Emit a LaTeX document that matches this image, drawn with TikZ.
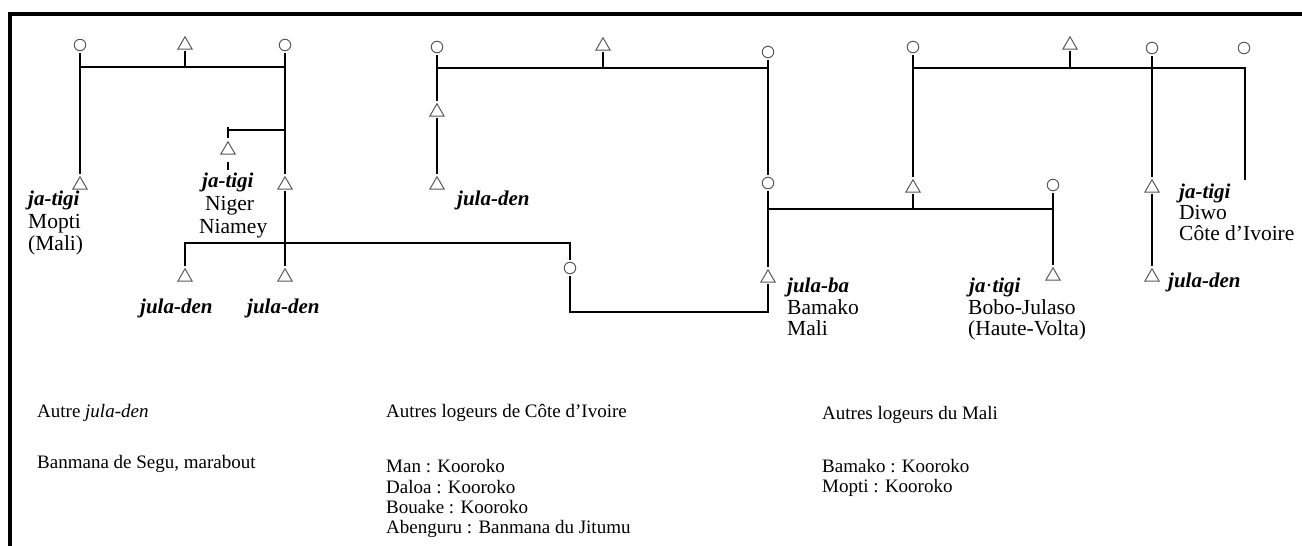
\documentclass[tikz,border=0pt]{standalone}
\usepackage{fontspec}
\setmainfont{Liberation Serif}
\usetikzlibrary{shapes.geometric}
\begin{document}
\begin{tikzpicture}[x=1pt,y=-1pt,
  fem/.style={circle, draw=black!65, line width=1pt, minimum size=11.5pt, inner sep=0pt, outer sep=2pt},
  male/.style={regular polygon, regular polygon sides=3, draw=black!65, line width=1pt, minimum size=16.5pt, inner sep=0pt, outer sep=1.5pt},
  kin/.style={line width=2.5pt, black},
  lab/.style={anchor=base west, inner sep=0pt, font=\fontsize{21.5}{24}\selectfont},
  labi/.style={anchor=base west, inner sep=0pt, font=\fontsize{21}{24}\selectfont\bfseries\itshape},
  txt/.style={anchor=base west, inner sep=0pt, font=\fontsize{19}{21}\selectfont}
]
\useasboundingbox (0,0) rectangle (1302,546);
% frame
\coordinate (fTR) at (1302,14);
\coordinate (fTL) at (10,14);
\coordinate (fBL) at (10,546);
\draw[line width=4pt] (fTR) -- (fTL) -- (fBL);

% ---------- family 1
\node[fem]  (c1) at (80,45) {};
\node[male] (t1) at (185,45) {};
\node[fem]  (c2) at (285,45) {};
\node[male] (t2) at (80,185) {};
\node[male] (t3) at (228,150) {};
\node[male] (t4) at (285,185) {};
\node[male] (t5) at (185,277) {};
\node[male] (t6) at (285,277) {};
\node[fem]  (c3) at (570,268) {};

% ---------- family 2
\node[fem]  (c4) at (437,47) {};
\node[male] (t8) at (603,46) {};
\node[fem]  (c5) at (768,52) {};
\node[male] (t9) at (437,112) {};
\node[male] (t10) at (437,185) {};
\node[fem]  (c6) at (768,183) {};
\node[male] (t7) at (768,278) {};

% ---------- family 3
\node[fem]  (c7) at (913,47) {};
\node[male] (t12) at (1070,45) {};
\node[fem]  (c8) at (1152,48) {};
\node[fem]  (c9) at (1244,48) {};
\node[male] (t11) at (913,188) {};
\node[fem]  (c10) at (1053,185) {};
\node[male] (t13) at (1053,276) {};
\node[male] (t14) at (1152,188) {};
\node[male] (t15) at (1152,277) {};

% ---------- connectors family 1
\coordinate (m1) at (185,67);
\draw[kin] (t1.south) -- (m1);
\draw[kin] (c1.south) -- (t2.north);
\draw[kin] (c1.south |- m1) -- (c2.south |- m1);
\draw[kin] (c2.south) -- (t4.north);
\coordinate (b1) at (228,130);
\coordinate (b1a) at (228,127);
\coordinate (b1b) at (228,138);
\draw[kin] (c2.south |- b1) -- (b1);
\draw[kin] (b1a) -- (b1b);
\coordinate (d1a) at (228,162);
\coordinate (d1b) at (228,170);
\draw[line width=1.3pt] (d1a) -- (d1b);
\draw[kin] (t4.south) -- (t6.north);
\coordinate (m2) at (185,243);
\draw[kin] (t5.north) -- (m2) -- (c3.north |- m2) -- (c3.north);
\coordinate (m3) at (570,312);
\draw[kin] (c3.south) -- (m3) -- (t7.south |- m3) -- (t7.south);

% ---------- connectors family 2
\coordinate (m4) at (603,68);
\draw[kin] (t8.south) -- (m4);
\draw[kin] (c4.south) -- (t9.north);
\draw[kin] (c4.south |- m4) -- (c5.south |- m4);
\draw[kin] (c5.south) -- (c6.north);
\draw[kin] (c6.south) -- (t7.north);
\draw[kin] (t9.south) -- (t10.north);
\coordinate (m5) at (913,209);
\draw[kin] (c6.south |- m5) -- (c10.south |- m5);
\draw[kin] (t11.south) -- (m5);

% ---------- connectors family 3
\coordinate (m6) at (1070,68);
\coordinate (m7) at (1245,180);
\draw[kin] (t12.south) -- (m6);
\draw[kin] (c7.south) -- (t11.north);
\draw[kin] (c7.south |- m6) -- (m7 |- m6) -- (m7);
\draw[kin] (c8.south) -- (t14.north);
\draw[kin] (t14.south) -- (t15.north);
\draw[kin] (c10.south) -- (t13.north);

% ---------- labels
\node[labi] (l1a) at (28,205) {ja-tigi};
\node[lab]  (l1b) at (28,228) {Mopti};
\node[lab]  (l1c) at (28,250) {(Mali)};
\node[labi] (l2a) at (202,187) {ja-tigi};
\node[lab]  (l2b) at (205,210) {Niger};
\node[lab]  (l2c) at (199,233) {Niamey};
\node[labi] (l3) at (140,313) {jula-den};
\node[labi] (l4) at (247,313) {jula-den};
\node[labi] (l5) at (457,205) {jula-den};
\node[labi] (l6a) at (787,292) {jula-ba};
\node[lab]  (l6b) at (787,314) {Bamako};
\node[lab]  (l6c) at (787,335) {Mali};
\node[labi] (l7a) at (969,292) {ja{\normalfont\textperiodcentered}tigi};
\node[lab]  (l7b) at (968,314) {Bobo-Julaso};
\node[lab]  (l7c) at (968,335) {(Haute-Volta)};
\node[labi] (l8a) at (1179,198) {ja-tigi};
\node[lab]  (l8b) at (1179,219) {Diwo};
\node[lab]  (l8c) at (1179,240) {Côte d'Ivoire};
\node[labi] (l9) at (1168,287) {jula-den};

% ---------- bottom text
\node[txt] (n1) at (37,417) {Autre \textit{jula-den}};
\node[txt] (n2) at (37,468) {Banmana de Segu, marabout};
\node[txt] (n3) at (386,417) {Autres logeurs de Côte d'Ivoire};
\node[txt] (n4) at (386,472) {Man : Kooroko};
\node[txt] (n5) at (386,493) {Daloa : Kooroko};
\node[txt] (n6) at (386,513) {Bouake : Kooroko};
\node[txt] (n7) at (386,533) {Abenguru : Banmana du Jitumu};
\node[txt] (n8) at (822,419) {Autres logeurs du Mali};
\node[txt] (n9) at (822,472) {Bamako : Kooroko};
\node[txt] (n10) at (822,492) {Mopti : Kooroko};
\end{tikzpicture}
\end{document}
